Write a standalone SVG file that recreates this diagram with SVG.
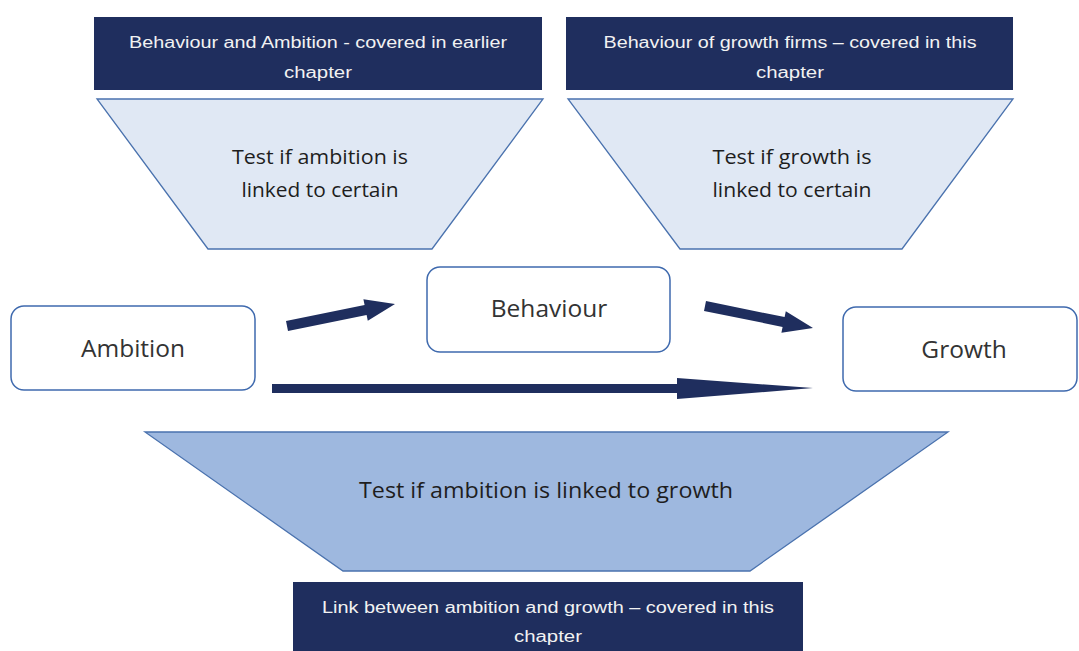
<svg xmlns="http://www.w3.org/2000/svg" width="1079" height="651" viewBox="0 0 1079 651">
<style>
.navy{fill:#1F2E5E;}
.ntxt{font-family:"Liberation Sans",Arial,sans-serif;font-size:16px;fill:#F2F2F2;text-anchor:middle;}
.trapL{fill:#E0E8F4;stroke:#4A72AE;stroke-width:1.3;}
.trapD{fill:#9EB8DF;stroke:#4A72AE;stroke-width:1.3;}
.ttxt{font-family:"Open Sans","Liberation Sans",sans-serif;font-size:20px;fill:#1E1E1E;text-anchor:middle;}
.box{fill:#FFFFFF;stroke:#3F6AAE;stroke-width:1.5;}
.btxt{font-family:"Open Sans","Liberation Sans",sans-serif;font-size:24.5px;fill:#333333;text-anchor:middle;}
.arrow{fill:#1F2E5E;}
</style>
<rect width="1079" height="651" fill="#FFFFFF"/>

<g id="header-left">
<rect class="navy" x="94" y="17" width="448" height="73"/>
<text class="ntxt" x="318" y="48" textLength="378" lengthAdjust="spacingAndGlyphs">Behaviour and Ambition - covered in earlier</text>
<text class="ntxt" x="318" y="78" textLength="68" lengthAdjust="spacingAndGlyphs">chapter</text>
</g>
<g id="header-right">
<rect class="navy" x="566" y="17" width="447" height="73"/>
<text class="ntxt" x="790" y="48" textLength="373" lengthAdjust="spacingAndGlyphs">Behaviour of growth firms – covered in this</text>
<text class="ntxt" x="790" y="78" textLength="68" lengthAdjust="spacingAndGlyphs">chapter</text>
</g>

<g id="test-left">
<polygon class="trapL" points="97,99 543,99 432,249 208,249"/>
<text class="ttxt" x="320" y="164" textLength="176" lengthAdjust="spacingAndGlyphs">Test if ambition is</text>
<text class="ttxt" x="320" y="197" textLength="157" lengthAdjust="spacingAndGlyphs">linked to certain</text>
</g>
<g id="test-right">
<polygon class="trapL" points="568,99 1013,99 902,249 680,249"/>
<text class="ttxt" x="792" y="164" textLength="159" lengthAdjust="spacingAndGlyphs">Test if growth is</text>
<text class="ttxt" x="792" y="197" textLength="159" lengthAdjust="spacingAndGlyphs">linked to certain</text>
</g>

<g id="ambition">
<rect class="box" x="11" y="306" width="244" height="84" rx="13"/>
<text class="btxt" x="133" y="357">Ambition</text>
</g>
<g id="behaviour">
<rect class="box" x="427" y="267" width="243" height="85" rx="13"/>
<text class="btxt" x="549" y="317">Behaviour</text>
</g>
<g id="growth">
<rect class="box" x="843" y="307" width="234" height="84" rx="13"/>
<text class="btxt" x="964" y="358">Growth</text>
</g>

<g id="connectors">
<polygon class="arrow" points="286,321.1 364.6,305.1 363.4,299.2 395,304 367.8,320.8 366.6,314.9 288,330.9"/>
<polygon class="arrow" points="706,301.1 784.6,317.1 785.8,311.2 813,328 781.4,332.8 782.6,326.9 704,310.9"/>
<polygon class="arrow" points="272,384 677,384 677,378 813,388 677,399 677,393 272,393"/>
</g>

<g id="test-bottom">
<polygon class="trapD" points="145,432 948,432 750,571 343,571"/>
<text class="ttxt" x="546" y="498" textLength="374" lengthAdjust="spacingAndGlyphs" style="font-size:21px">Test if ambition is linked to growth</text>
</g>

<g id="footer">
<rect class="navy" x="293" y="582" width="510" height="72"/>
<text class="ntxt" x="548" y="613" textLength="452" lengthAdjust="spacingAndGlyphs">Link between ambition and growth – covered in this</text>
<text class="ntxt" x="548" y="642" textLength="68" lengthAdjust="spacingAndGlyphs">chapter</text>
</g>
</svg>
